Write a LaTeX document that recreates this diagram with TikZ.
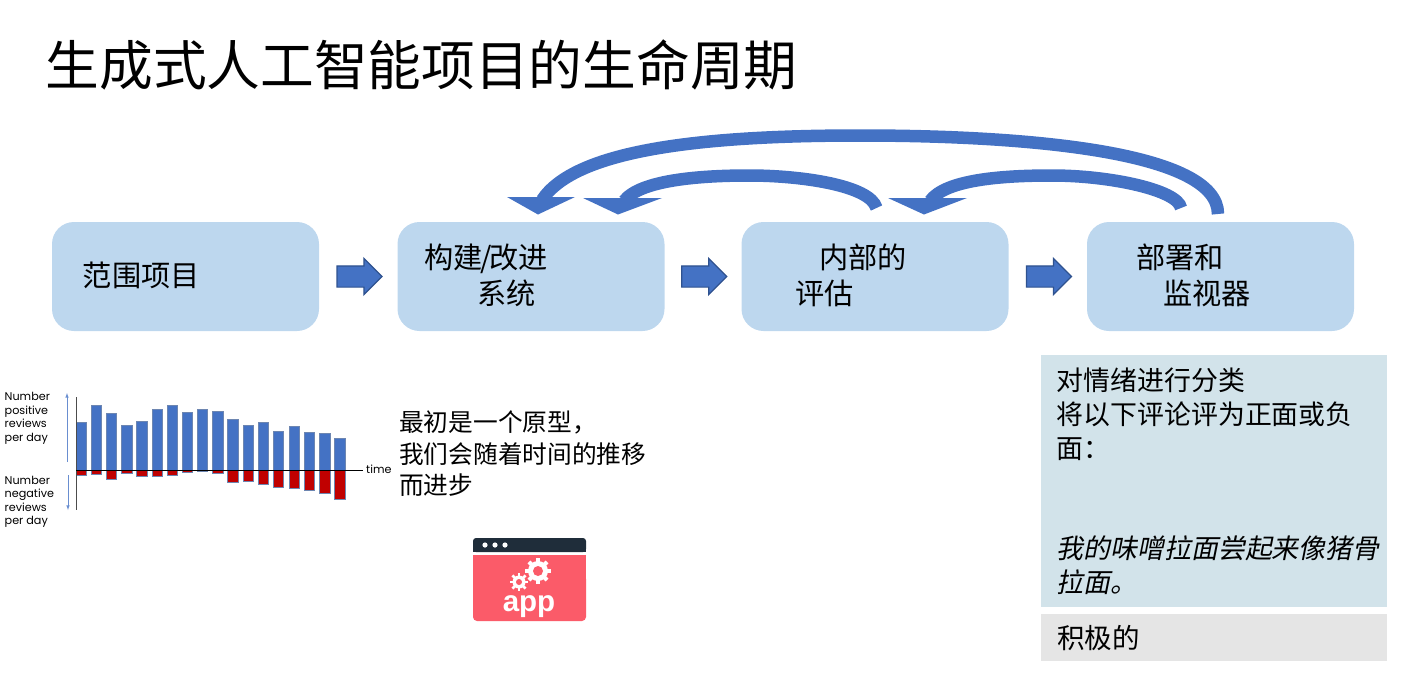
\documentclass[tikz,border=0pt]{standalone}
\usepackage{fontspec}
\setmainfont{Noto Sans CJK SC}
\newfontfamily\cjkslant[FakeSlant=0.2]{Noto Sans CJK SC}
\newfontfamily\chartfont{Poppins}
\newfontfamily\appfont{Liberation Sans}
\usetikzlibrary{shapes.arrows,calc}
\definecolor{boxblue}{HTML}{BDD7EE}
\definecolor{arrowblue}{HTML}{4472C4}
\definecolor{arrowedge}{HTML}{2F528F}
\definecolor{panelblue}{HTML}{D2E3EA}
\definecolor{panelgray}{HTML}{E5E5E5}
\definecolor{negred}{HTML}{C00000}
\definecolor{appred}{HTML}{FB5B69}
\definecolor{appdark}{HTML}{1F2D3A}
\tikzset{
  x=1pt,y=-1pt,
  stagebox/.style={draw=none,fill=boxblue,rounded corners=22pt,minimum width=267pt,minimum height=109pt,
    inner sep=0pt,text width=267pt,align=left,font=\fontsize{29.2}{36}\selectfont,
    execute at end node={\par\vspace*{2.5pt}}},
  flowarrow/.style={single arrow,draw=arrowedge,line width=1.2pt,fill=arrowblue,minimum height=45pt,
    text height=10pt,text depth=10pt,text width=0pt,xshift=-4pt,
    single arrow head extend=7.5pt,single arrow head indent=0pt,inner sep=0pt},
  loopline/.style={draw=arrowblue,line width=12.5pt},
  loophead/.style={fill=arrowblue},
  posbar/.style={fill=arrowblue,draw=arrowedge!70,line width=.6pt},
  negbar/.style={fill=negred,draw=arrowedge!70,line width=.6pt},
  chartlabel/.style={anchor=north west,inner sep=0pt,align=left,font=\chartfont\fontsize{11.2}{13.5}\selectfont},
  paneltext/.style={anchor=north west,inner sep=0pt,align=left},
}
\begin{document}
\begin{tikzpicture}
\useasboundingbox (0,0) rectangle (1401,681);
\node[anchor=base west,inner sep=0pt,font=\fontsize{53.7}{60}\selectfont] (title) at (45.5,85) {生成式人工智能项目的生命周期};

\node[stagebox] (scope) at (185.5,276.5) {\hspace*{31pt}范围项目};
\node[stagebox] (build) at (531,276.5) {\hspace*{27pt}构建\kern-2.5pt/\kern-2.5pt改进\\\hspace*{80pt}系统};
\node[stagebox] (eval) at (875,276.5) {\hspace*{78pt}内部的\\\hspace*{54pt}评估};
\node[stagebox] (deploy) at (1220.5,276.5) {\hspace*{49pt}部署和\\\hspace*{76pt}监视器};

\node[flowarrow] (a1) at ($(scope.east)!.5!(build.west)$) {};
\node[flowarrow] (a2) at ($(build.east)!.5!(eval.west)$) {};
\node[flowarrow] (a3) at ($(eval.east)!.5!(deploy.west)$) {};

% feedback loops
\coordinate (bigstart) at (1218,214);
\coordinate (bigend) at (542,200);
\coordinate (evalstart) at (876.5,208);
\coordinate (evalend) at (624,201);
\coordinate (depstart) at (1181,208);
\coordinate (depend) at (930,201);
\draw[loopline] (bigstart) .. controls (1218,152) and (1030,135.5) .. (860,135.5) .. controls (700,135.5) and (575,150) .. (bigend);
\draw[loopline] (evalstart) .. controls (870,185) and (800,175.5) .. (749,175.5) .. controls (700,175.5) and (640,180) .. (evalend);
\draw[loopline] (depstart) .. controls (1178,190) and (1110,175.5) .. (1052,175.5) .. controls (1000,175.5) and (945,180) .. (depend);
\fill[loophead] (507,197) -- (575,197) -- (538,214.5) -- cycle;
\fill[loophead] (583,198) -- (662,198) -- (618,214.5) -- cycle;
\fill[loophead] (888,198) -- (967,198) -- (924,214.5) -- cycle;

% chart
\foreach \l/\r/\t/\b in {
228/258/128/285,273/303/75/282,318/348/101/298,363/396/136/280,409/441/125/290,457/487/88/288,
502/532/75/285,547/577/96/277,592/622/88/275,637/669/93/280,682/714/119/306,730/760/136/303,
775/805/128/314,820/851/154/322,868/898/138/325,913/943/157/330,958/990/161/341,1004/1036/175/359}{
  \filldraw[negbar] ({\l/3},470) rectangle ({\r/3},{380+\b/3});
  \filldraw[posbar] ({\l/3},{380+\t/3}) rectangle ({\r/3},470);
}
\draw[line width=.8pt,black!70] (76,397) -- (76,510);
\draw[line width=.8pt,black] (76,470) -- (363,470);
\draw[line width=.6pt,arrowblue!80,-latex] (67,462) -- (67,393);
\draw[line width=.6pt,arrowblue!80,-latex] (68,475) -- (68,510);
\node[chartlabel] (poslabel) at (4.5,392.5) {Number\\positive\\reviews\\per day};
\node[chartlabel] (neglabel) at (4.5,476) {Number\\negative\\reviews\\per day};
\node[chartlabel,anchor=base west] (timelabel) at (366,473.5) {time};

\node[anchor=north west,inner sep=0pt,align=left,font=\fontsize{24.7}{31.5}\selectfont] (proto) at (399,411) {最初是一个原型，\\我们会随着时间的推移\\而进步};

% app icon
\fill[appdark,rounded corners=3pt] (473,552) -- (473,538) -- (586,538) -- (586,552) -- cycle;
\fill[appdark] (473,546) rectangle (586,552);
\fill[appred,rounded corners=4pt] (473,575) -- (473,621) -- (586,621) -- (586,575) -- cycle;
\fill[appred] (473,555) rectangle (586,600);
\foreach \x in {485,495,505}{\fill[white] (\x,545) circle (2.6);}
\foreach \cx/\cy/\ro/\ri/\wd in {538/571/10/5/4,519/582/6.5/3/2.8}{
  \fill[white] (\cx,\cy) circle (\ro);
  \foreach \a in {0,45,...,315}{\draw[white,line width=\wd pt] (\cx,\cy) -- ++(\a:{\ro+2.8});}
  \fill[appred] (\cx,\cy) circle (\ri);
}
\node[anchor=base,inner sep=0pt,text=white,font=\appfont\bfseries\fontsize{29.5}{30}\selectfont] (applabel) at (529,611) {app};

% right panel
\node[fill=panelblue,minimum width=346pt,minimum height=252pt,inner sep=0pt,anchor=north west] (panel) at (1041,355) {};
\node[paneltext,font=\fontsize{26.9}{34}\selectfont] (prompt) at (1056.5,368) {对情绪进行分类\\将以下评论评为正面或负\\面：};
\node[paneltext,font=\cjkslant\fontsize{26.9}{34}\selectfont] (review) at (1056.5,536) {我的味噌拉面尝起来像猪骨\\拉面。};
\node[fill=panelgray,minimum width=346pt,minimum height=47pt,inner sep=0pt,anchor=north west] (answer) at (1041,614) {};
\node[anchor=west,inner sep=0pt,font=\fontsize{27.5}{30}\selectfont] (answertext) at (1057,637.5) {积极的};
\end{tikzpicture}
\end{document}
